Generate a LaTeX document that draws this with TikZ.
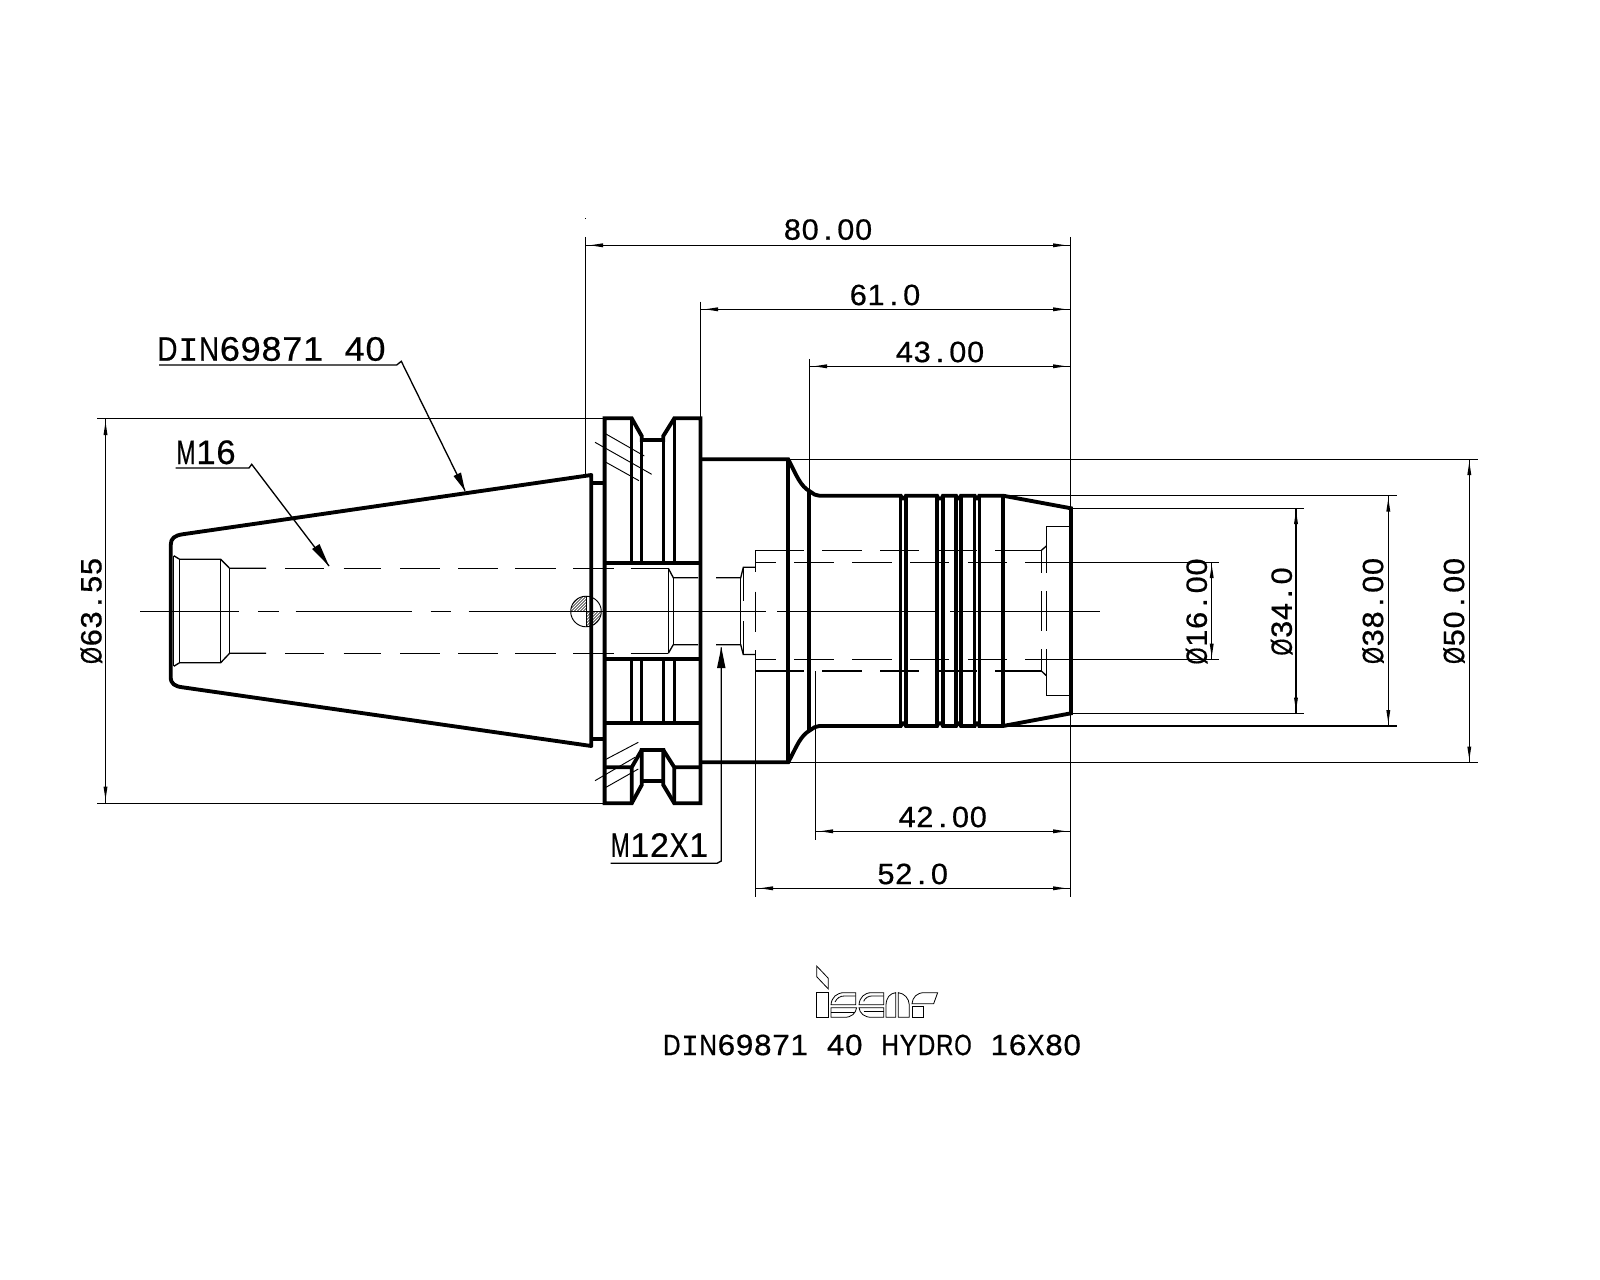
\documentclass[tikz,border=0pt]{standalone}
\usepackage{fontspec}
\usepackage{graphicx}
\newfontfamily\cadfont[FakeStretch=1.12,FakeBold=0.6]{Liberation Sans}
\newfontfamily\cadmonofont[FakeStretch=1.12,FakeBold=0.6]{Liberation Mono}
\usetikzlibrary{arrows.meta}
\makeatletter
\newlength\cadcell
\newlength\cadmax
\newsavebox\cadbox
\def\cadI{{\cadmonofont I}}
\def\celltext#1#2{\setlength\cadcell{#1\dimexpr 0.75pt\relax}\setlength\cadmax{0.96\cadcell}\cad@loop#2\@nil}
\def\cad@loop#1{\ifx#1\@nil\else\cad@cell{#1}\expandafter\cad@loop\fi}
\def\cad@cell#1{\sbox\cadbox{#1}\ifdim\wd\cadbox>\cadmax
  \makebox[\cadcell][c]{\resizebox{\cadmax}{\height}{#1}}\else\makebox[\cadcell][c]{#1}\fi}
\makeatother
\tikzset{
  thin line/.style={line width=1pt,black},
  hair/.style={line width=0.7pt,black},
  body/.style={line width=2.9pt,black,line join=miter,line cap=butt},
  bodyb/.style={line width=2.5pt,black},
  dimtext/.style={inner sep=0pt,font=\cadfont\fontsize{22}{22}\selectfont},
  labeltext/.style={inner sep=0pt,font=\cadfont\fontsize{25.5}{25.5}\selectfont},
  logo/.style={line width=0.6pt,black}
}
\newcommand{\tipH}[3]{\fill (#1,#2) -- ++({#3*13},-2) -- ++(0,4) -- cycle;}
\newcommand{\tipV}[3]{\fill (#1,#2) -- ++(-2,{#3*13}) -- ++(4,0) -- cycle;}
\begin{document}
\begin{tikzpicture}[x=0.75pt,y=-0.75pt]
\useasboundingbox (0,0) rectangle (1600,1280);
\fill[white] (0,0) rectangle (1600,1280);
% ---- taper
\draw[body,line join=round] (591.3,475) -- (182.5,534.3) .. controls (175,535.5) and (170.7,538) .. (170.7,545) -- (170.7,677) .. controls (170.7,684) and (175,686.3) .. (182.5,687.3) -- (591.3,746) -- cycle;
\draw[body] (591.3,482.7) -- (604.6,482.7) (591.3,739.3) -- (604.6,739.3);
% ---- flange
\draw[body] (604.6,803.3) -- (604.6,418.3) -- (631.7,418.3) -- (641.7,436) -- (641.7,440) -- (663.3,440) -- (663.3,436) -- (674.3,418.3) -- (700.5,418.3) -- (700.5,803.3) -- (674.3,803.3) -- (663.3,785) -- (663.3,750) -- (641.7,750) -- (641.7,785) -- (631.7,803.3) -- cycle;
\draw[body] (604.6,562.7) -- (700.5,562.7) (604.6,659) -- (700.5,659) (604.6,723.3) -- (700.5,723.3);
\draw[bodyb] (631.7,418.3) -- (631.7,562.7) (641.7,440) -- (641.7,562.7) (663.3,440) -- (663.3,562.7) (674.3,418.3) -- (674.3,562.7);
\draw[bodyb] (631.7,659) -- (631.7,723.3) (641.7,659) -- (641.7,723.3) (663.3,659) -- (663.3,723.3) (674.3,659) -- (674.3,723.3);
\draw[body] (604.6,767.3) -- (631.7,767.3) -- (641.7,750) (631.7,767.3) -- (631.7,803.3) (663.3,750) -- (674.3,767.3) -- (700.5,767.3) (674.3,767.3) -- (674.3,803.3) (641.7,781) -- (663.3,781);
% hatching
\draw[hair] (606,434) -- (644.3,456) (595,442.3) -- (651.7,474.3) (606,462.3) -- (639,480.7);
\draw[hair] (606,759.3) -- (638.3,742.3) (595,780.7) -- (635,757.3) (606,787.3) -- (638.3,769);
% ---- stem and body
\draw[body] (700.5,459.3) -- (788.2,459.3) .. controls (797,476) and (800,486) .. (810.4,491.7) .. controls (813,494) and (816,495.7) .. (819.3,495.7) -- (900.7,495.7) -- (902.5,498.5) -- (904.5,498.5) -- (906,495.7) -- (937,495.7) -- (938.5,498.5) -- (941.5,498.5) -- (943,495.7) -- (956,495.7) -- (957.5,498.5) -- (959.5,498.5) -- (961,495.7) -- (974.6,495.7) -- (976,498.5) -- (978,498.5) -- (979.3,495.7) -- (1003,495.7) -- (1071,508.3) -- (1071,713.3) -- (1003,726) -- (979.3,726) -- (978,723.2) -- (976,723.2) -- (974.6,726) -- (961,726) -- (959.5,723.2) -- (957.5,723.2) -- (956,726) -- (943,726) -- (941.5,723.2) -- (938.5,723.2) -- (937,726) -- (906,726) -- (904.5,723.2) -- (902.5,723.2) -- (900.7,726) -- (819.3,726) .. controls (816,726) and (813,728) .. (810.4,730) .. controls (800,736) and (797,746) .. (788.2,762.3) -- (700.5,762.3);
\draw[body] (788.2,459.3) -- (788.2,762.3) (809.3,491) -- (809.3,731);
\draw[bodyb] (900.7,495.7) -- (900.7,726) (906,495.7) -- (906,726) (937,495.7) -- (937,726) (943,495.7) -- (943,726) (956,495.7) -- (956,726) (961,495.7) -- (961,726) (974.6,495.7) -- (974.6,726) (979.3,495.7) -- (979.3,726);
\draw[body] (1003,495.7) -- (1003,726);
% ---- hidden and thin lines
\draw[thin line] (140.4,611.5) -- (238.6,611.5) (257.8,611.5) -- (278.8,611.5) (295.7,611.5) -- (411.8,611.5) (430.5,611.5) -- (450.6,611.5) (468.5,611.5) -- (765.7,611.5) (777,611.5) -- (937,611.5) (950,611.5) -- (1099.6,611.5);
% counterbore
\draw[thin line] (173.8,555.7) -- (179.6,559.3) -- (220.7,559.3) -- (229.6,568.3) -- (266,568.3);
\draw[thin line] (173.8,666.3) -- (179.6,662.7) -- (220.7,662.7) -- (229.6,653.3) -- (266,653.3);
\draw[thin line] (173.8,555.7) -- (173.8,666.3) (179.6,559.3) -- (179.6,662.7) (220.7,559.3) -- (220.7,662.7) (229.6,568.3) -- (229.6,653.3);
\foreach \yy in {568.3,653.3}{
  \draw[thin line] (285.4,\yy) -- (324,\yy) (343.5,\yy) -- (381.4,\yy) (400,\yy) -- (439.5,\yy) (458,\yy) -- (497.5,\yy) (515,\yy) -- (555.5,\yy) (573.4,\yy) -- (613.6,\yy) (630.5,\yy) -- (668.3,\yy);
}
\draw[thin line] (668.3,568.3) -- (673.3,577.7) -- (698,577.7) (716,577.7) -- (740.7,577.7) -- (743.3,567.3) -- (755.7,567.3);
\draw[thin line] (668.3,653.3) -- (673.3,644.7) -- (698,644.7) (716,644.7) -- (740.7,644.7) -- (743.3,654.5) -- (755.7,654.5);
\draw[thin line] (668.3,568.3) -- (668.3,653.3) (673.3,577.7) -- (673.3,644.7) (740.7,577.7) -- (740.7,644.7) (743.3,567.3) -- (743.3,601) (743.3,621) -- (743.3,654.5);
\draw[thin line] (755.7,550.3) -- (755.7,571.7) (755.7,591.7) -- (755.7,631.7) (755.7,650) -- (755.7,896.7);
\foreach \yy in {550.3,671}{
  \draw[thin line] (755.7,\yy) -- (804.3,\yy) (822.1,\yy) -- (862,\yy) (880,\yy) -- (918.6,\yy) (937.9,\yy) -- (977,\yy) (995,\yy) -- (1041.4,\yy);
}
\foreach \yy in {562.3,659.3}{
  \draw[thin line] (755.7,\yy) -- (776.4,\yy) (794.3,\yy) -- (834.3,\yy) (852,\yy) -- (892,\yy) (910,\yy) -- (948.6,\yy) (967.9,\yy) -- (1007,\yy) (1025,\yy) -- (1219.3,\yy);
}
\draw[thin line] (1041.4,550.3) -- (1046.4,546) (1041.4,671) -- (1046.4,675.7);
\draw[thin line] (1071,526.7) -- (1046.4,526.7) -- (1046.4,572.7) (1046.4,591) -- (1046.4,630.7) (1046.4,649) -- (1046.4,695.3) -- (1071,695.3);
\draw[thin line] (1041.4,550.3) -- (1041.4,572.7) (1041.4,591) -- (1041.4,630.7) (1041.4,649) -- (1041.4,671);
% pin section
\begin{scope}
\clip (586,596) rectangle (570,611.5) (586,611.5) rectangle (602,627);
\clip (586,611.5) circle (15.3);
\foreach \k in {-30,-27,...,30}{\draw[line width=0.5pt] (586+\k-20,631.5) -- (586+\k+20,591.5);}
\end{scope}
\draw[hair] (586,611.5) circle (15.3);
\draw[hair] (586,596) -- (586,627);
% ---- extension lines
\draw[thin line] (585.3,237) -- (585.3,475);
\fill (584.8,218.5) rectangle (585.8,219.5);
\draw[thin line] (700.3,301.7) -- (700.3,418);
\draw[thin line] (809.3,359) -- (809.3,491);
\draw[thin line] (1070.7,237) -- (1070.7,896.7);
\draw[thin line] (815.4,671) -- (815.4,840);
\draw[thin line] (97,418.3) -- (604.6,418.3) (97,803.3) -- (604.6,803.3);
\draw[thin line] (788.2,459.3) -- (1477.7,459.3) (788.2,762.3) -- (1477.7,762.3);
\draw[thin line] (1003,495.7) -- (1396.7,495.7) (1003,726) -- (1396.7,726);
\draw[thin line] (1071,508.3) -- (1304,508.3) (1071,713.3) -- (1304,713.3);
% ---- dimension lines
\draw[thin line] (585.3,245.3) -- (1070.7,245.3);
\tipH{590}{245.3}{1} \tipH{1066}{245.3}{-1}
\draw[thin line] (700.3,309.3) -- (1070.7,309.3);
\tipH{705}{309.3}{1} \tipH{1066}{309.3}{-1}
\draw[thin line] (809.3,366.3) -- (1070.7,366.3);
\tipH{814}{366.3}{1} \tipH{1066}{366.3}{-1}
\draw[thin line] (815.4,831.3) -- (1070.7,831.3);
\tipH{820}{831.3}{1} \tipH{1066}{831.3}{-1}
\draw[thin line] (755.7,888.3) -- (1070.7,888.3);
\tipH{760}{888.3}{1} \tipH{1066}{888.3}{-1}
\draw[thin line] (105.5,418.3) -- (105.5,803.3);
\tipV{105.5}{422}{1} \tipV{105.5}{799.5}{-1}
\draw[thin line] (1211.7,562.3) -- (1211.7,659.3);
\tipV{1211.7}{565}{1} \tipV{1211.7}{656.7}{-1}
\draw[thin line] (1296,508.3) -- (1296,713.3);
\tipV{1296}{511}{1} \tipV{1296}{710.5}{-1}
\draw[thin line] (1388.3,495.7) -- (1388.3,726);
\tipV{1388.3}{498.5}{1} \tipV{1388.3}{723}{-1}
\draw[thin line] (1469.3,459.3) -- (1469.3,762.3);
\tipV{1469.3}{462}{1} \tipV{1469.3}{759.5}{-1}
% ---- dimension texts
\node[dimtext] (t80) at (828,229.6) {\celltext{17.8}{80.00}};
\node[dimtext] (t61) at (885,295) {\celltext{17.8}{61.0}};
\node[dimtext] (t43) at (940,352) {\celltext{17.8}{43.00}};
\node[dimtext] (t42) at (942.7,817) {\celltext{17.8}{42.00}};
\node[dimtext] (t52) at (912.7,874) {\celltext{17.8}{52.0}};
\node[dimtext,rotate=90] (t63) at (91.3,611) {\celltext{17.8}{Ø63.55}};
\node[dimtext,rotate=90] (t16) at (1196.7,611.5) {\celltext{17.8}{Ø16.00}};
\node[dimtext,rotate=90] (t34) at (1281.7,611.5) {\celltext{17.8}{Ø34.0}};
\node[dimtext,rotate=90] (t38) at (1373,611) {\celltext{17.8}{Ø38.00}};
\node[dimtext,rotate=90] (t50) at (1454,611) {\celltext{17.8}{Ø50.00}};
% ---- leaders
\node[labeltext] (din) at (271.5,349) {\celltext{20.8}{D\cadI N69871~40}};
\coordinate (dinS) at (159,365);
\coordinate (dinH) at (396.7,365);
\coordinate (dinK) at (401.3,361.3);
\coordinate (dinT) at (465,490.7);
\draw[thin line] (dinS) -- (dinH) -- (dinK) -- (dinT);
\fill (dinT) -- (453.5,476) -- (461,472.5) -- cycle;
\node[labeltext] (m16) at (206,452.3) {\celltext{20}{M16}};
\coordinate (mS) at (175.7,468);
\coordinate (mH) at (249,468);
\coordinate (mK) at (251.7,464.3);
\coordinate (mT) at (329,566);
\draw[thin line] (mS) -- (mH) -- (mK) -- (mT);
\fill (mT) -- (312,549) -- (319.5,544) -- cycle;
\node[labeltext] (m12) at (659.5,845) {\celltext{19.6}{M12X1}};
\coordinate (xS) at (610.7,863.3);
\coordinate (xH) at (717,863.3);
\coordinate (xK) at (721.3,861);
\coordinate (xT) at (721.3,647.3);
\draw[thin line] (xS) -- (xH) -- (xK) -- (xT);
\fill (xT) -- (717,668) -- (725.5,668) -- cycle;
% ---- logo
\begin{scope}[shift={(805,960)},x=0.25pt,y=-0.25pt]
\draw[logo] (35,18) -- (70,55) -- (70,87) -- (35,50) -- cycle;
\draw[logo] (35,98) rectangle (70,172);
\draw[logo] (78,134) .. controls (80,112) and (95,98) .. (118,98) -- (152,98) -- (152,134) -- cycle;
\draw[logo] (90,126) .. controls (96,114) and (105,108) .. (118,108) -- (152,108);
\draw[logo] (78,143) -- (155,143) .. controls (152,160) and (140,172) .. (118,172) -- (78,172) -- cycle;
\draw[logo] (78,158) -- (150,158);
\draw[logo] (162,134) .. controls (164,112) and (178,98) .. (200,98) -- (236,98) -- (236,134) -- cycle;
\draw[logo] (176,124) .. controls (180,114) and (190,108) .. (200,108) -- (236,108);
\draw[logo] (162,143) .. controls (164,160) and (178,172) .. (200,172) -- (236,172) -- (236,143) -- cycle;
\draw[logo] (176,155) -- (236,155);
\draw[logo] (243,172) -- (243,135) .. controls (244,112) and (255,100) .. (272,98) -- (272,172) -- cycle;
\draw[logo] (280,98) .. controls (298,100) and (312,115) .. (313,135) -- (313,172) -- (280,172) -- cycle;
\draw[logo] (321,131) .. controls (323,112) and (335,98) .. (358,98) -- (398,98) -- (386,131) -- cycle;
\draw[logo] (321,140) rectangle (356,172);
\end{scope}
\node[dimtext] (title) at (872,1045) {\celltext{18.2}{D\cadI N69871~40~HYDRO~16X80}};
\end{tikzpicture}
\end{document}
